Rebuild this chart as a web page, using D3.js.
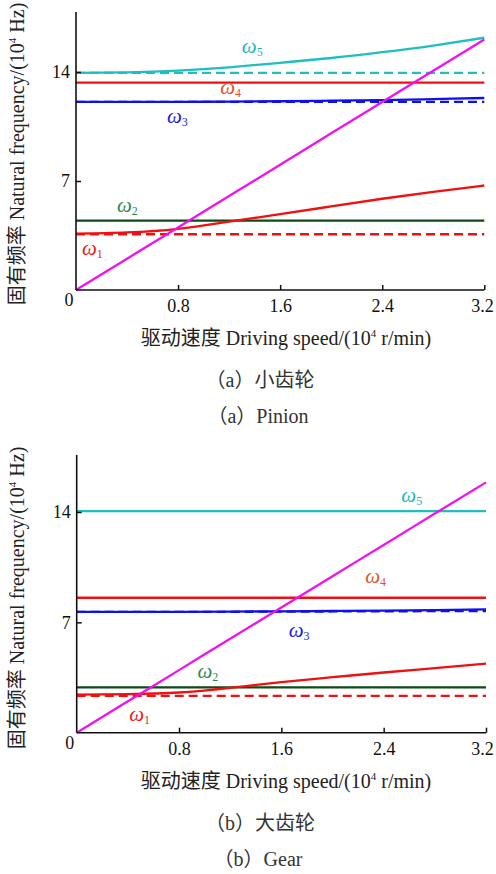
<!DOCTYPE html>
<html>
<head>
<meta charset="utf-8">
<script src="https://cdn.jsdelivr.net/npm/d3@7"></script>
<style>
  html, body { margin: 0; padding: 0; background: #fff; }
  svg { display: block; }
  text { font-family: "Liberation Serif", "Times New Roman", "Noto Sans CJK SC", serif; }
</style>
</head>
<body>
<div id="chart"></div>
<script>
// Data (speed in 10^4 r/min, frequency in 10^4 Hz)
const speed = [0, 0.4, 0.8, 1.2, 1.6, 2.0, 2.4, 2.8, 3.2];
const xTicks = [0.8, 1.6, 2.4, 3.2];
const yTicks = [7, 14];

// pinion
const pinionW1 = [3.62, 3.7, 3.93, 4.39, 4.87, 5.37, 5.86, 6.3, 6.71];
const pinionW1Static = [3.58, 3.58, 3.58, 3.58, 3.58, 3.58, 3.58, 3.58, 3.58];
const pinionW2 = [4.46, 4.46, 4.46, 4.46, 4.46, 4.46, 4.46, 4.46, 4.46];
const pinionW3 = [12.08, 12.08, 12.08, 12.1, 12.12, 12.16, 12.2, 12.26, 12.33];
const pinionW3Static = [12.08, 12.08, 12.08, 12.08, 12.08, 12.08, 12.08, 12.08, 12.08];
const pinionW4 = [13.32, 13.32, 13.32, 13.32, 13.32, 13.32, 13.32, 13.32, 13.32];
const pinionW5 = [13.94, 13.98, 14.09, 14.3, 14.59, 14.9, 15.27, 15.7, 16.2];
const pinionW5Static = [13.94, 13.94, 13.94, 13.94, 13.94, 13.94, 13.94, 13.94, 13.94];
const pinionMesh = [0, 2.01, 4.02, 6.03, 8.05, 10.06, 12.07, 14.08, 16.09];

// gear
const gearW1 = [2.42, 2.45, 2.55, 2.85, 3.21, 3.52, 3.82, 4.1, 4.38];
const gearW1Static = [2.34, 2.34, 2.34, 2.34, 2.34, 2.34, 2.34, 2.34, 2.34];
const gearW2 = [2.87, 2.87, 2.87, 2.87, 2.87, 2.87, 2.87, 2.87, 2.87];
const gearW3 = [7.67, 7.67, 7.67, 7.68, 7.7, 7.72, 7.74, 7.78, 7.82];
const gearW3Static = [7.67, 7.67, 7.67, 7.67, 7.68, 7.69, 7.7, 7.71, 7.72];
const gearW4 = [8.56, 8.56, 8.56, 8.56, 8.56, 8.56, 8.56, 8.56, 8.56];
const gearW5 = [14.06, 14.06, 14.06, 14.06, 14.06, 14.06, 14.06, 14.06, 14.06];
const gearMesh = [0, 1.99, 3.97, 5.96, 7.94, 9.93, 11.91, 13.9, 15.88];

const modeNames = ['1', '2', '3', '4', '5'];

// Styles
const C = {
  red: '#f01010', green: '#0d4a14', blue: '#1010e8', cyan: '#1fbfbf', magenta: '#f010f0',
  lblRed: '#f01818', lblGreen: '#2a8a50', lblBlue: '#1a1ae0', lblOrange: '#e0552a', lblCyan: '#20b8b8'
};

const W = 496, H = 874;
const svg = d3.select('#chart').append('svg').attr('width', W).attr('height', H);

const panels = [
  {
    left: 76, right: 484.3, bottom: 290, y14: 72, top: 12,
    series: [
      { v: pinionW1Static, c: C.red, dash: true },
      { v: pinionW3Static, c: C.blue, dash: true },
      { v: pinionW5Static, c: C.cyan, dash: true },
      { v: pinionW2, c: C.green },
      { v: pinionW1, c: C.red },
      { v: pinionW3, c: C.blue },
      { v: pinionW4, c: C.red },
      { v: pinionW5, c: C.cyan },
      { v: pinionMesh, c: C.magenta }
    ],
    labels: [[0.047, 2.25, C.lblRed], [0.321, 5.01, C.lblGreen], [0.713, 10.73, C.lblBlue], [1.13, 12.59, C.lblOrange], [1.30, 15.22, C.lblCyan]],
    yLabelMid: 154,
    caption1: '（a）小齿轮', caption2: '（a）Pinion'
  },
  {
    left: 76.7, right: 486, bottom: 732.7, y14: 512, top: 455,
    series: [
      { v: gearW1Static, c: C.red, dash: true },
      { v: gearW3Static, c: C.blue, dash: true },
      { v: gearW2, c: C.green },
      { v: gearW1, c: C.red },
      { v: gearW3, c: C.blue },
      { v: gearW4, c: C.red },
      { v: gearW5, c: C.cyan },
      { v: gearMesh, c: C.magenta }
    ],
    labels: [[0.41, 0.747, C.lblRed], [0.944, 3.47, C.lblGreen], [1.658, 6.06, C.lblBlue], [2.255, 9.50, C.lblOrange], [2.538, 14.64, C.lblCyan]],
    yLabelMid: 598,
    caption1: '（b）大齿轮', caption2: '（b）Gear'
  }
];

panels.forEach(p => {
  const x = d3.scaleLinear().domain([0, 3.2]).range([p.left, p.right]);
  const y = d3.scaleLinear().domain([0, 14]).range([p.bottom, p.y14]);
  const g = svg.append('g');

  const line = d3.line()
    .x((d, i) => x(speed[i]))
    .y(d => y(d))
    .curve(d3.curveNatural);

  g.selectAll('path.series')
    .data(p.series)
    .enter().append('path')
    .attr('class', 'series')
    .attr('d', d => line(d.v))
    .attr('fill', 'none')
    .attr('stroke', d => d.c)
    .attr('stroke-width', 2.3)
    .attr('stroke-dasharray', d => d.dash ? '9,5' : null);

  // axes (inward ticks)
  const xAxis = g.append('g')
    .attr('transform', `translate(0,${p.bottom})`)
    .call(d3.axisBottom(x).tickValues(xTicks).tickSizeInner(-5).tickSizeOuter(0).tickFormat(d3.format('.1f')));
  xAxis.select('.domain').attr('stroke-width', 1.6).attr('d', `M${p.left},0H${p.right}`);
  xAxis.selectAll('.tick line').attr('stroke-width', 1.5);
  xAxis.selectAll('.tick text')
    .attr('y', 22).attr('dy', 0)
    .attr('x', d => d === 3.2 ? W - 14 - x(d) : 0)
    .style('font-size', '18px').attr('fill', '#111');

  const yAxis = g.append('g')
    .attr('transform', `translate(${p.left},0)`)
    .call(d3.axisLeft(y).tickValues(yTicks).tickSizeInner(-5).tickSizeOuter(0));
  yAxis.select('.domain').attr('stroke-width', 1.6).attr('d', `M0,${p.top}V${p.bottom}`);
  yAxis.selectAll('.tick line').attr('stroke-width', 1.5);
  yAxis.selectAll('.tick text')
    .attr('x', -6).attr('dy', '0.33em')
    .style('font-size', '18px').attr('fill', '#111');
  g.selectAll('.domain, .tick line').attr('stroke', '#111');

  g.append('text')
    .attr('x', p.left - 7).attr('y', p.bottom + 16)
    .attr('text-anchor', 'middle')
    .style('font-size', '18px').attr('fill', '#111')
    .text('0');

  // mode labels
  p.labels.forEach((l, i) => {
    const t = g.append('text')
      .attr('x', x(l[0])).attr('y', y(l[1]))
      .attr('fill', l[2]).style('font-size', '21px');
    t.append('tspan').style('font-style', 'italic').text('ω');
    t.append('tspan').attr('dy', 3).style('font-size', '12px').text(modeNames[i]);
  });

  // axis titles
  const yl = g.append('text')
    .attr('transform', `translate(24,${p.yLabelMid}) rotate(-90)`)
    .attr('text-anchor', 'middle')
    .style('font-size', '20px').attr('fill', '#222');
  yl.append('tspan').text('固有频率 Natural frequency/(10');
  yl.append('tspan').attr('dy', -8).style('font-size', '11px').text('4');
  yl.append('tspan').attr('dy', 8).text(' Hz)');

  const xl = g.append('text')
    .attr('x', 286).attr('y', p.bottom + 55)
    .attr('text-anchor', 'middle')
    .style('font-size', '20px').attr('fill', '#222');
  xl.append('tspan').text('驱动速度 Driving speed/(10');
  xl.append('tspan').attr('dy', -8).style('font-size', '11px').text('4');
  xl.append('tspan').attr('dy', 8).text(' r/min)');

  g.append('text')
    .attr('x', 260).attr('y', p.bottom + 97)
    .attr('text-anchor', 'middle')
    .style('font-size', '20px').attr('fill', '#333')
    .text(p.caption1);
  g.append('text')
    .attr('x', 258).attr('y', p.bottom + 133)
    .attr('text-anchor', 'middle')
    .style('font-size', '20px').attr('fill', '#333')
    .text(p.caption2);
});
</script>
</body>
</html>
